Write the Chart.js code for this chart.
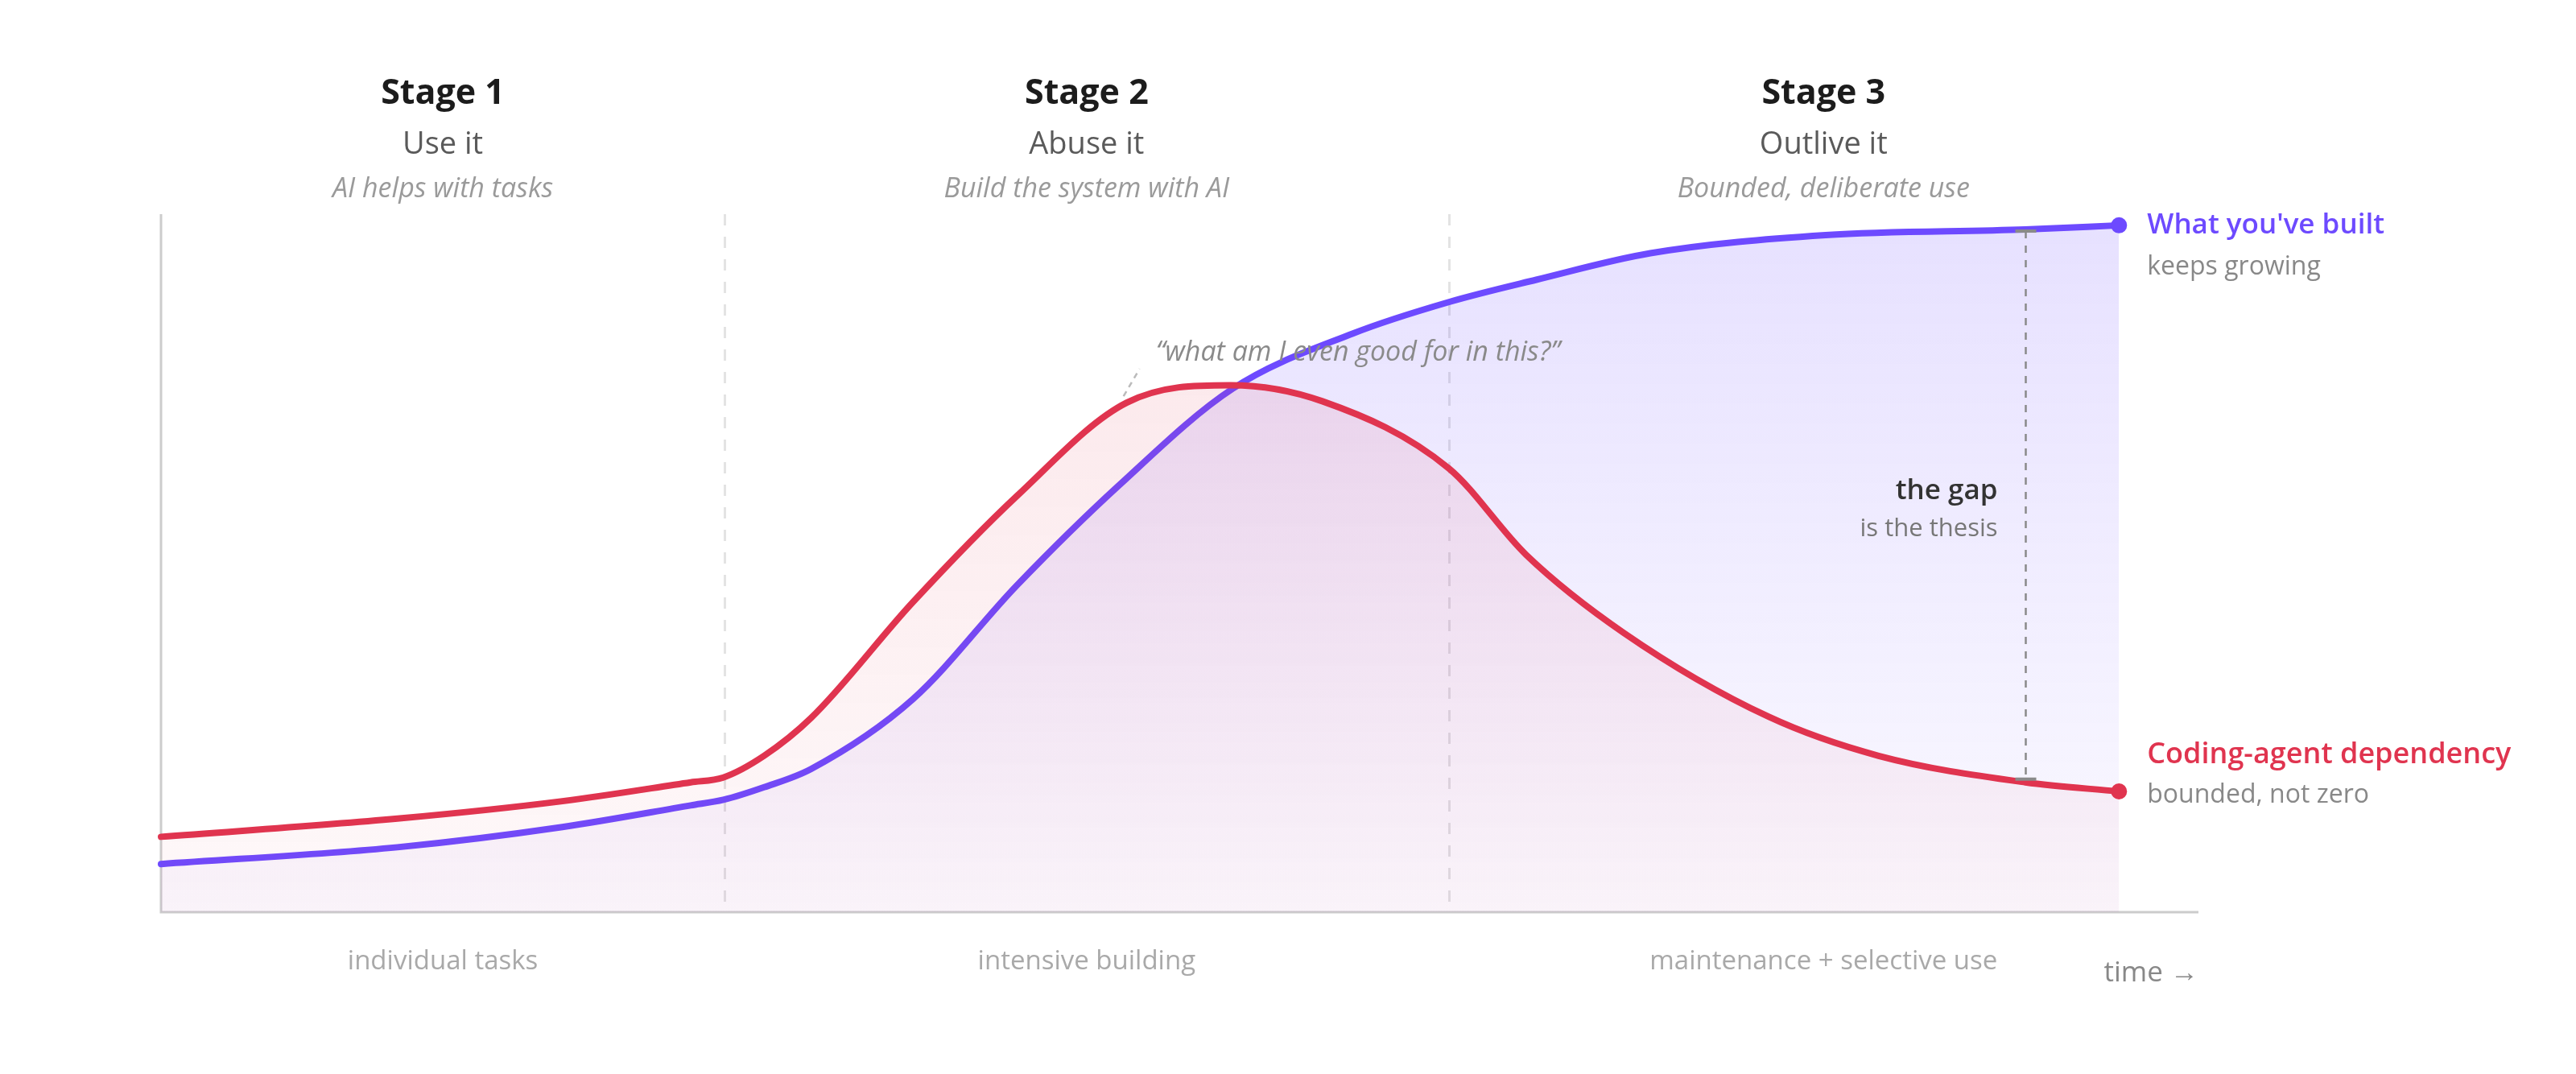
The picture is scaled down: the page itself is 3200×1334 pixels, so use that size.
<!DOCTYPE html>
<html>
<head>
<meta charset="utf-8">
<title>Use it, abuse it, outlive it</title>
<script src="https://cdn.jsdelivr.net/npm/chart.js@4.4.1/dist/chart.umd.min.js"></script>
<style>
  html, body { margin: 0; padding: 0; background: #fff; }
  #wrap { width: 3200px; height: 1334px; position: relative; }
</style>
</head>
<body>
<div id="wrap"><canvas id="stagesChart"></canvas></div>
<script>
// ---- data (x = time, y = level, both 0..100) ----
const builtX = [0, 11.6, 19.7, 26.0, 27.6, 29.6, 31.9, 36.9, 42.0, 47.0, 52.6, 58.5, 63.2, 67.5, 73.1, 81.7, 91.5, 96.1];
const builtY = [6.9, 9.3, 12.2, 15.3, 16.1, 17.9, 20.5, 30.5, 46.8, 61.1, 75.0, 82.9, 87.4, 90.6, 94.4, 97.0, 97.8, 98.4];

const depX = [0, 11.6, 19.7, 26.0, 27.6, 29.6, 31.9, 36.9, 42.0, 47.4, 52.5, 57.0, 63.2, 67.0, 71.8, 78.9, 84.3, 91.5, 96.1];
const depY = [10.8, 13.4, 15.9, 18.6, 19.3, 22.4, 27.8, 44.4, 59.6, 73.0, 75.5, 73.2, 63.6, 51.2, 40.0, 28.0, 22.4, 18.6, 17.3];

// stage boundaries on the time axis
const stageEdges = [0, 27.66, 63.2, 100];
const stageTitles = ['Stage 1', 'Stage 2', 'Stage 3'];
const stageNames = ['Use it', 'Abuse it', 'Outlive it'];
const stageNotes = ['AI helps with tasks', 'Build the system with AI', 'Bounded, deliberate use'];
const phaseLabels = ['individual tasks', 'intensive building', 'maintenance + selective use'];

const gapAt = 91.5;          // where "the gap" is measured
const quoteAt = 47.4;        // dependency kink the quote points at
const quoteText = '\u201Cwhat am I even good for in this?\u201D';

const PURPLE = '#6d4aff';
const RED = '#e0344f';
const FONT = "'Open Sans', 'Noto Sans', sans-serif";

function toPoints(xs, ys) {
    return xs.map((x, i) => ({ x: x, y: ys[i] }));
}

// vertical fade under each curve
function fade(rgb, top, bottom) {
    return function (context) {
        const chart = context.chart;
        const area = chart.chartArea;
        if (!area) return null;
        const g = chart.ctx.createLinearGradient(0, area.top, 0, area.bottom);
        g.addColorStop(0, 'rgba(' + rgb + ',' + top + ')');
        g.addColorStop(1, 'rgba(' + rgb + ',' + bottom + ')');
        return g;
    };
}

function endDot(count) {
    return ctx => (ctx.dataIndex === count - 1 ? 10 : 0);
}

function text(ctx, str, x, y, font, color, align) {
    ctx.font = font;
    ctx.fillStyle = color;
    ctx.textAlign = align || 'center';
    ctx.textBaseline = 'middle';
    ctx.fillText(str, x, y);
}

// axes + stage dividers, under the curves
const backdrop = {
    id: 'backdrop',
    beforeDatasetsDraw(chart) {
        const { ctx, chartArea, scales } = chart;
        ctx.save();
        ctx.strokeStyle = 'rgba(0,0,0,0.11)';
        ctx.lineWidth = 3;
        ctx.setLineDash([14, 14]);
        stageEdges.slice(1, -1).forEach(v => {
            const px = Math.round(scales.x.getPixelForValue(v)) + 0.5;
            ctx.beginPath();
            ctx.moveTo(px, chartArea.top);
            ctx.lineTo(px, chartArea.bottom);
            ctx.stroke();
        });
        ctx.setLineDash([]);
        ctx.strokeStyle = '#cccccc';
        ctx.lineWidth = 3;
        ctx.beginPath();
        ctx.moveTo(chartArea.left, chartArea.top);
        ctx.lineTo(chartArea.left, chartArea.bottom);
        ctx.lineTo(chartArea.right, chartArea.bottom);
        ctx.stroke();
        ctx.restore();
    }
};

// all labels and annotations
const labels = {
    id: 'labels',
    afterDatasetsDraw(chart) {
        const { ctx, chartArea, scales } = chart;
        const x = scales.x;
        ctx.save();

        // stage headings and phase labels
        for (let i = 0; i < stageTitles.length; i++) {
            const cx = (x.getPixelForValue(stageEdges[i]) + x.getPixelForValue(stageEdges[i + 1])) / 2;
            text(ctx, stageTitles[i], cx, 117, '700 43px ' + FONT, '#1c1c1c');
            text(ctx, stageNames[i], cx, 180, '400 38px ' + FONT, '#5a5a5a');
            text(ctx, stageNotes[i], cx, 235, 'italic 400 34px ' + FONT, '#9a9a9a');
            text(ctx, phaseLabels[i], cx, chartArea.bottom + 62, '400 33px ' + FONT, '#a9a9a9');
        }
        text(ctx, 'time \u2192', chartArea.right, chartArea.bottom + 76, '400 35px ' + FONT, '#888888', 'right');

        // end labels
        const built = chart.getDatasetMeta(1).data;
        const dep = chart.getDatasetMeta(0).data;
        const bEnd = built[built.length - 1];
        const dEnd = dep[dep.length - 1];
        text(ctx, 'What you\'ve built', bEnd.x + 35, bEnd.y, '600 35px ' + FONT, PURPLE, 'left');
        text(ctx, 'keeps growing', bEnd.x + 35, bEnd.y + 52, '400 32px ' + FONT, '#888888', 'left');
        text(ctx, 'Coding-agent dependency', dEnd.x + 35, dEnd.y - 45, '600 36px ' + FONT, RED, 'left');
        text(ctx, 'bounded, not zero', dEnd.x + 35, dEnd.y + 5, '400 32px ' + FONT, '#888888', 'left');

        // the gap
        const gi = builtX.indexOf(gapAt);
        const di = depX.indexOf(gapAt);
        const gx = Math.round(built[gi].x) + 0.5;
        const top = built[gi].y + 2;
        const bottom = dep[di].y - 4;
        ctx.strokeStyle = '#8a8a8a';
        ctx.lineWidth = 2.5;
        ctx.setLineDash([9, 9]);
        ctx.beginPath();
        ctx.moveTo(gx, top);
        ctx.lineTo(gx, bottom);
        ctx.stroke();
        ctx.setLineDash([]);
        ctx.lineWidth = 4;
        ctx.beginPath();
        ctx.moveTo(gx - 13, top);
        ctx.lineTo(gx + 13, top);
        ctx.moveTo(gx - 13, bottom);
        ctx.lineTo(gx + 13, bottom);
        ctx.stroke();
        text(ctx, 'the gap', gx - 35, 610, '600 35px ' + FONT, '#333333', 'right');
        text(ctx, 'is the thesis', gx - 35, 657, '400 31px ' + FONT, '#777777', 'right');

        // quote at the dependency kink
        const q = dep[depX.indexOf(quoteAt)];
        ctx.strokeStyle = '#bbbbbb';
        ctx.lineWidth = 2.5;
        ctx.setLineDash([7, 6]);
        ctx.beginPath();
        ctx.moveTo(q.x - 4, q.y - 8);
        ctx.lineTo(q.x + 16, q.y - 42);
        ctx.stroke();
        ctx.setLineDash([]);
        text(ctx, quoteText, q.x + 36, q.y - 62, 'italic 400 34px ' + FONT, '#8a8a8a', 'left');

        ctx.restore();
    }
};

new Chart(document.getElementById('stagesChart'), {
    type: 'line',
    data: {
        datasets: [
            {
                label: 'Coding-agent dependency',
                data: toPoints(depX, depY),
                borderColor: RED,
                borderWidth: 8,
                backgroundColor: fade('224,52,79', 0.13, 0.03),
                fill: 'origin',
                cubicInterpolationMode: 'monotone',
                pointRadius: endDot(depX.length),
                pointBackgroundColor: RED,
                pointBorderWidth: 0,
                borderCapStyle: 'round',
                borderJoinStyle: 'round'
            },
            {
                label: "What you've built",
                data: toPoints(builtX, builtY),
                borderColor: PURPLE,
                borderWidth: 8,
                backgroundColor: fade('109,74,255', 0.17, 0.03),
                fill: 'origin',
                cubicInterpolationMode: 'monotone',
                pointRadius: endDot(builtX.length),
                pointBackgroundColor: PURPLE,
                pointBorderWidth: 0,
                borderCapStyle: 'round',
                borderJoinStyle: 'round'
            }
        ]
    },
    options: {
        responsive: true,
        maintainAspectRatio: false,
        animation: false,
        devicePixelRatio: 1,
        clip: false,
        layout: { padding: { left: 200, right: 469, top: 266, bottom: 201 } },
        scales: {
            x: { type: 'linear', min: 0, max: 100, display: false },
            y: { type: 'linear', min: 0, max: 100, display: false }
        },
        plugins: {
            legend: { display: false },
            tooltip: { enabled: false }
        },
        events: []
    },
    plugins: [backdrop, labels]
});
</script>
</body>
</html>
